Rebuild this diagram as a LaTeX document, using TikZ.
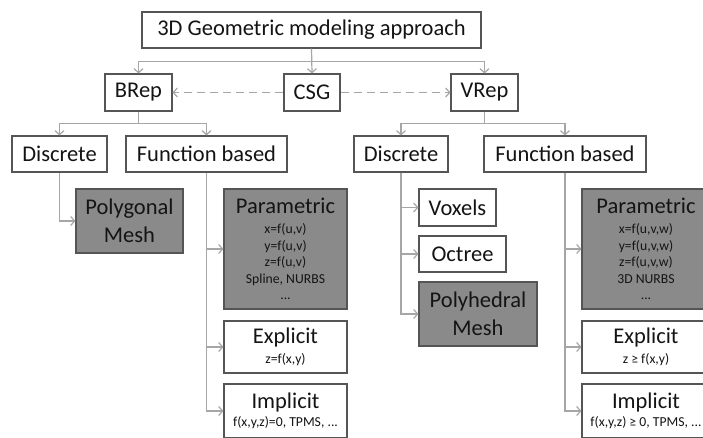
\documentclass[tikz,border=0pt]{standalone}
\usepackage{fontspec}
\setmainfont{Carlito}
\usetikzlibrary{arrows.meta}
\definecolor{edgegray}{HTML}{A6A6A6}
\definecolor{framegray}{HTML}{555555}
\definecolor{fillgray}{HTML}{8A8A8A}
\definecolor{inkgray}{HTML}{141414}
\newcommand\bigfont{\fontsize{22.5}{28}\selectfont}
\newcommand\detailfont{\fontsize{13.7}{16.5}\selectfont}

\begin{document}
\begin{tikzpicture}[x=1pt,y=-1pt,
  box/.style={draw=framegray, line width=1.1pt, fill=white, inner sep=0pt,
    align=center, text=inkgray, font=\bigfont},
  shaded/.style={box, fill=fillgray},
  formbox/.style={box, font=\detailfont},
  formshaded/.style={formbox, fill=fillgray},
  conn/.style={draw=edgegray, line width=1.2pt,
    -{Straight Barb[length=4pt,width=9pt]}},
  dashconn/.style={conn, dash pattern=on 8pt off 5pt},
]
\useasboundingbox (0,0) rectangle (703,437);
\fill[white] (0,0) rectangle (703,437);

% top levels
\node[box, minimum width=339pt, minimum height=36pt] (top) at (311.5,30) {3D Geometric modeling approach};
\node[box, minimum width=67pt, minimum height=37pt] (brep) at (138.5,92.5) {BRep};
\node[box, minimum width=56pt, minimum height=37pt] (csg) at (312,92.5) {CSG};
\node[box, minimum width=67pt, minimum height=37pt] (vrep) at (484.5,92.5) {VRep};

% second level
\node[box, minimum width=95pt, minimum height=36pt] (dl) at (59.5,154) {Discrete};
\node[box, minimum width=161pt, minimum height=36pt] (fl) at (206.5,154) {Function based};
\node[box, minimum width=94pt, minimum height=36pt] (dr) at (401,154) {Discrete};
\node[box, minimum width=162pt, minimum height=36pt] (fr) at (565,154) {Function based};

% boundary representation leaves
\node[shaded, minimum width=107pt, minimum height=64pt] (poly) at (129.5,221) {Polygonal\\Mesh};
\node[formshaded, minimum width=123pt, minimum height=120pt] (paramL) at (285.5,249)
  {{\bigfont Parametric}\\[4pt]x=f(u,v)\\y=f(u,v)\\z=f(u,v)\\Spline, NURBS\\...};
\node[formbox, minimum width=123pt, minimum height=52pt] (explL) at (285.5,347)
  {{\bigfont Explicit}\\[3pt]z=f(x,y)};
\node[formbox, minimum width=123pt, minimum height=54pt] (implL) at (285.5,411)
  {{\bigfont Implicit}\\[1pt]f(x,y,z)=0, TPMS, ...};

% volume representation leaves
\node[box, minimum width=77pt, minimum height=37pt] (vox) at (457.5,207.5) {Voxels};
\node[box, minimum width=87pt, minimum height=36pt] (oct) at (462.5,254) {Octree};
\node[shaded, minimum width=118pt, minimum height=64pt] (polyh) at (478,314) {Polyhedral\\Mesh};
\node[formshaded, minimum width=128pt, minimum height=120pt] (paramR) at (646,249)
  {{\bigfont Parametric}\\[4pt]x=f(u,v,w)\\y=f(u,v,w)\\z=f(u,v,w)\\3D NURBS\\...};
\node[formbox, minimum width=128pt, minimum height=52pt] (explR) at (646,347)
  {{\bigfont Explicit}\\[3pt]z ≥ f(x,y)};
\node[formbox, minimum width=128pt, minimum height=54pt] (implR) at (646,411)
  {{\bigfont Implicit}\\[1pt]f(x,y,z) ≥ 0, TPMS, ...};

% connectors
\draw[conn] (top.south) -- (csg.north);
\draw[conn] (top.south) -- ++(0,13) -| (brep.north);
\draw[conn] (top.south) -- ++(0,13) -| (vrep.north);
\draw[dashconn] (csg.west) -- (brep.east);
\draw[dashconn] (csg.east) -- (vrep.west);

\draw[conn] (brep.south) -- ++(0,12) -| (dl.north);
\draw[conn] (brep.south) -- ++(0,12) -| (fl.north);
\draw[conn] (vrep.south) -- ++(0,12) -| (dr.north);
\draw[conn] (vrep.south) -- ++(0,12) -| (fr.north);

\draw[conn] (dl.south) |- (poly.west);
\draw[conn] (fl.south) |- (paramL.west);
\draw[conn] (fl.south) |- (explL.west);
\draw[conn] (fl.south) |- (implL.west);

\draw[conn] (dr.south) |- (vox.west);
\draw[conn] (dr.south) |- (oct.west);
\draw[conn] (dr.south) |- (polyh.west);
\draw[conn] (fr.south) |- (paramR.west);
\draw[conn] (fr.south) |- (explR.west);
\draw[conn] (fr.south) |- (implR.west);
\end{tikzpicture}
\end{document}
